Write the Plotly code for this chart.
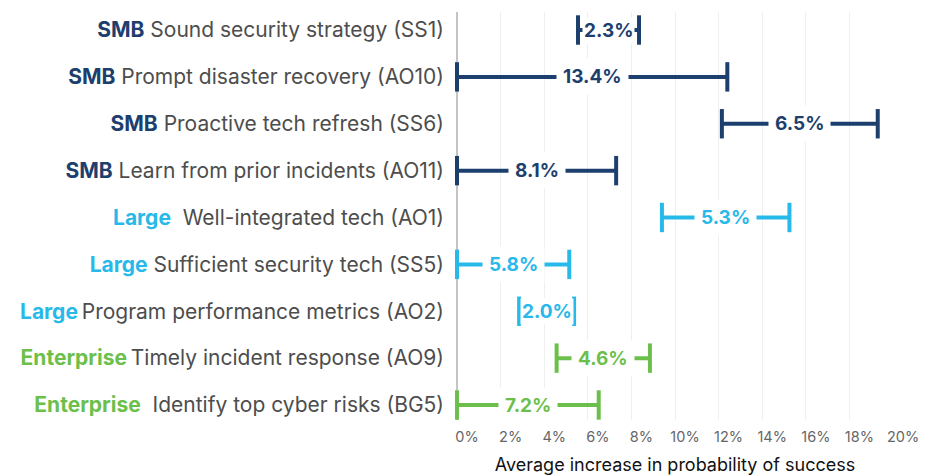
import plotly.graph_objects as go

segments = ["SMB", "SMB", "SMB", "SMB", "Large", "Large", "Large", "Enterprise", "Enterprise"]
practices = [
    "Sound security strategy (SS1)",
    "Prompt disaster recovery (AO10)",
    "Proactive tech refresh (SS6)",
    "Learn from prior incidents (AO11)",
    "Well-integrated tech (AO1)",
    "Sufficient security tech (SS5)",
    "Program performance metrics (AO2)",
    "Timely incident response (AO9)",
    "Identify top cyber risks (BG5)",
]
separators = [" ", " ", " ", " ", "  ", " ", "\u2009", "\u2009", "  "]
starts = [5.55, 0.0, 12.15, 0.0, 9.4, 0.0, 2.85, 4.57, 0.0]
ends = [8.35, 12.4, 19.3, 7.3, 15.25, 5.15, 5.37, 8.85, 6.5]
increase_labels = ["2.3%", "13.4%", "6.5%", "8.1%", "5.3%", "5.8%", "2.0%", "4.6%", "7.2%"]
x_ticks = [0, 2, 4, 6, 8, 10, 12, 14, 16, 18, 20]
x_tick_text = [f"{v}%" for v in x_ticks]

seg_colors = {"SMB": "#1d3f6e", "Large": "#27b9ea", "Enterprise": "#6cbf4b"}
FONT = "Inter, Roboto, sans-serif"

fig = go.Figure()
ypos = list(range(len(practices)))
for i, (seg, s, e, lab) in enumerate(zip(segments, starts, ends, increase_labels)):
    c = seg_colors[seg]
    fig.add_trace(go.Scatter(
        x=[s, e], y=[i, i], mode="lines+markers",
        line=dict(color=c, width=4),
        marker=dict(symbol="line-ns", size=21, line=dict(color=c, width=4)),
        hoverinfo="skip", showlegend=False, cliponaxis=False,
    ))
    pad = 6 if (e - s) > 3.5 else 1
    fig.add_annotation(
        x=(s + e) / 2, y=i, text=f"<b>{lab}</b>", showarrow=False,
        font=dict(family=FONT, size=19, color=c),
        bgcolor="white", borderpad=pad, xanchor="center", yanchor="middle",
    )

ticktext = [
    f"<span style='color:{seg_colors[s]}'><b>{s}</b></span>{sep.replace(' ', '&nbsp;')}{p}"
    for s, sep, p in zip(segments, separators, practices)
]

fig.update_layout(
    width=941, height=476,
    margin=dict(l=449, r=56, t=4, b=64),
    plot_bgcolor="white", paper_bgcolor="white",
    font=dict(family=FONT, color="#4d4d4d"),
    xaxis=dict(
        range=[0, 20], tickvals=x_ticks, ticktext=x_tick_text,
        showgrid=True, gridcolor="#efefef", gridwidth=1,
        zeroline=True, zerolinecolor="#c4c4c4", zerolinewidth=2,
        tickfont=dict(size=14.5, color="#666666"), ticklabelshift=10,
        ticklabelstandoff=6,
        title=dict(text="Average increase in probability of success",
                   font=dict(size=18, color="#111111"), standoff=14),
    ),
    yaxis=dict(
        range=[8.32, -0.384], tickvals=ypos, ticktext=ticktext,
        showgrid=False, zeroline=False,
        tickfont=dict(size=21, color="#4d4d4d"), ticklabelstandoff=12,
    ),
)

fig.write_html("out.html")
